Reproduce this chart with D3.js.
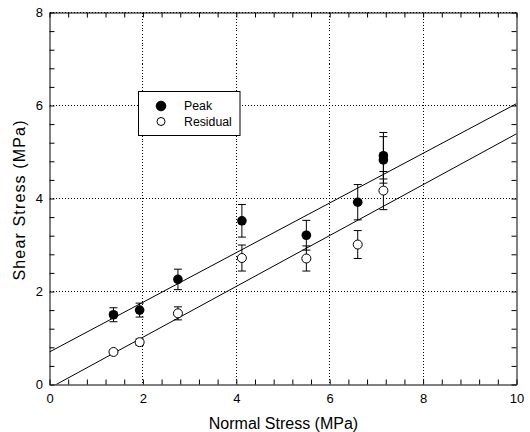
<!DOCTYPE html>
<html>
<head>
<meta charset="utf-8">
<script src="https://cdn.jsdelivr.net/npm/d3@7"></script>
<style>
  html, body { margin: 0; padding: 0; background: #fff; }
  svg { display: block; font-family: Arial, "Liberation Sans", sans-serif; }
</style>
</head>
<body>
<div id="chart"></div>
<script>
// Shear vs normal stress, peak and residual, with linear fits
const peakNormal = [1.37, 1.93, 2.75, 4.12, 5.5, 6.6, 7.15, 7.15];
const peakShear = [1.5, 1.6, 2.26, 3.52, 3.21, 3.92, 4.92, 4.83];
const peakErr = [0.15, 0.15, 0.22, 0.35, 0.32, 0.38, 0.5, 0.5];

const residualNormal = [1.37, 1.93, 2.75, 4.12, 5.5, 6.6, 7.15];
const residualShear = [0.7, 0.91, 1.53, 2.72, 2.71, 3.01, 4.17];
const residualErr = [0.04, 0.07, 0.14, 0.28, 0.27, 0.3, 0.41];

// fit lines: [intercept, slope]
const peakFit = [0.7, 0.534];
const residualFit = [-0.078, 0.547];

const xTicks = d3.range(0, 10.01, 0.4);
const yTicks = d3.range(0, 8.01, 0.4);
const gridX = [2, 4, 6, 8];
const gridY = [2, 4, 6, 8];

const width = 530;
const height = 432;
const plotLeft = 49.5, plotRight = 516.5, plotTop = 12.5, plotBottom = 384.5;

const x = d3.scaleLinear().domain([0, 10]).range([plotLeft, plotRight]);
const y = d3.scaleLinear().domain([0, 8]).range([plotBottom, plotTop]);

const svg = d3
  .select("#chart")
  .append("svg")
  .attr("width", width)
  .attr("height", height);

svg.append("defs")
  .append("clipPath")
  .attr("id", "plot-clip")
  .append("rect")
  .attr("x", plotLeft)
  .attr("y", plotTop)
  .attr("width", plotRight - plotLeft)
  .attr("height", plotBottom - plotTop);

// axes (ticks pointing inward on all four sides)
const fmt = (d) => {
  const r = Math.round(d);
  return Math.abs(d - r) < 1e-6 && r % 2 === 0 ? String(r) : "";
};

svg.append("g")
  .attr("transform", `translate(0,${plotBottom})`)
  .call(d3.axisBottom(x).tickValues(xTicks).tickSize(-5).tickSizeOuter(0).tickPadding(9).tickFormat(fmt));
svg.append("g")
  .attr("transform", `translate(${plotLeft},0)`)
  .call(d3.axisLeft(y).tickValues(yTicks).tickSize(-5).tickSizeOuter(0).tickPadding(6.5).tickFormat(fmt));
svg.append("g")
  .attr("transform", `translate(0,${plotTop})`)
  .call(d3.axisTop(x).tickValues(xTicks).tickSize(-5).tickSizeOuter(0).tickFormat(""));
svg.append("g")
  .attr("transform", `translate(${plotRight},0)`)
  .call(d3.axisRight(y).tickValues(yTicks).tickSize(-5).tickSizeOuter(0).tickFormat(""));

svg.selectAll(".domain").attr("stroke", "#000");
svg.selectAll(".tick line").attr("stroke", "#000");
svg.selectAll(".tick text")
  .attr("fill", "#000")
  .attr("font-size", "13px")
  .attr("font-family", "Arial, 'Liberation Sans', sans-serif");

// dotted grid
const grid = svg.append("g")
  .attr("stroke", "#000")
  .attr("stroke-width", 1)
  .attr("stroke-dasharray", "1,2")
  .attr("shape-rendering", "crispEdges");
grid.selectAll(".gx").data(gridX).join("line")
  .attr("class", "gx")
  .attr("x1", (d) => x(d))
  .attr("x2", (d) => x(d))
  .attr("y1", plotTop)
  .attr("y2", plotBottom);
grid.selectAll(".gy").data(gridY).join("line")
  .attr("class", "gy")
  .attr("x1", plotLeft)
  .attr("x2", plotRight)
  .attr("y1", (d) => y(d))
  .attr("y2", (d) => y(d));

// fit lines
const fits = [peakFit, residualFit];
svg.append("g")
  .attr("clip-path", "url(#plot-clip)")
  .selectAll("line")
  .data(fits)
  .join("line")
  .attr("x1", x(0))
  .attr("x2", x(10))
  .attr("y1", (d) => y(d[0]))
  .attr("y2", (d) => y(d[0] + d[1] * 10))
  .attr("stroke", "#000")
  .attr("stroke-width", 1);

// build point tables
const peakPts = peakNormal.map((n, i) => ({ x: n, y: peakShear[i], e: peakErr[i] }));
const resPts = residualNormal.map((n, i) => ({ x: n, y: residualShear[i], e: residualErr[i] }));

function errorBars(pts) {
  const g = svg.append("g").attr("stroke", "#000").attr("stroke-width", 1);
  g.selectAll(".v").data(pts).join("line")
    .attr("class", "v")
    .attr("x1", (d) => x(d.x)).attr("x2", (d) => x(d.x))
    .attr("y1", (d) => y(d.y - d.e)).attr("y2", (d) => y(d.y + d.e));
  g.selectAll(".t").data(pts).join("line")
    .attr("class", "t")
    .attr("x1", (d) => x(d.x) - 4).attr("x2", (d) => x(d.x) + 4)
    .attr("y1", (d) => y(d.y + d.e)).attr("y2", (d) => y(d.y + d.e));
  g.selectAll(".b").data(pts).join("line")
    .attr("class", "b")
    .attr("x1", (d) => x(d.x) - 4).attr("x2", (d) => x(d.x) + 4)
    .attr("y1", (d) => y(d.y - d.e)).attr("y2", (d) => y(d.y - d.e));
}
errorBars(resPts);
errorBars(peakPts);

svg.append("g").selectAll("circle").data(resPts).join("circle")
  .attr("cx", (d) => x(d.x)).attr("cy", (d) => y(d.y)).attr("r", 4.5)
  .attr("fill", "#fff").attr("stroke", "#000").attr("stroke-width", 1);
svg.append("g").selectAll("circle").data(peakPts).join("circle")
  .attr("cx", (d) => x(d.x)).attr("cy", (d) => y(d.y)).attr("r", 4.8)
  .attr("fill", "#000");

// legend
const legend = svg.append("g").attr("transform", "translate(138.5,91.5)");
legend.append("rect")
  .attr("width", 101.5).attr("height", 44)
  .attr("fill", "#fff").attr("stroke", "#000").attr("stroke-width", 1);
const legendItems = [
  { label: "Peak", filled: true },
  { label: "Residual", filled: false },
];
const li = legend.selectAll(".item").data(legendItems).join("g")
  .attr("class", "item")
  .attr("transform", (d, i) => `translate(0,${14.5 + i * 15.5})`);
li.append("circle")
  .attr("cx", 22.5).attr("r", (d) => (d.filled ? 4.8 : 4))
  .attr("fill", (d) => (d.filled ? "#000" : "#fff"))
  .attr("stroke", "#000").attr("stroke-width", 1);
li.append("text")
  .attr("x", 45.5).attr("dy", "0.36em")
  .attr("font-size", "12.3px")
  .text((d) => d.label);

// axis titles
svg.append("text")
  .attr("x", (plotLeft + plotRight) / 2 + 0.5)
  .attr("y", 429)
  .attr("text-anchor", "middle")
  .attr("font-size", "16px")
  .text("Normal Stress (MPa)");
svg.append("text")
  .attr("transform", `translate(25,${(plotTop + plotBottom) / 2 + 2}) rotate(-90)`)
  .attr("text-anchor", "middle")
  .attr("font-size", "16px")
  .attr("textLength", 160)
  .attr("lengthAdjust", "spacing")
  .text("Shear Stress (MPa)");
</script>
</body>
</html>
